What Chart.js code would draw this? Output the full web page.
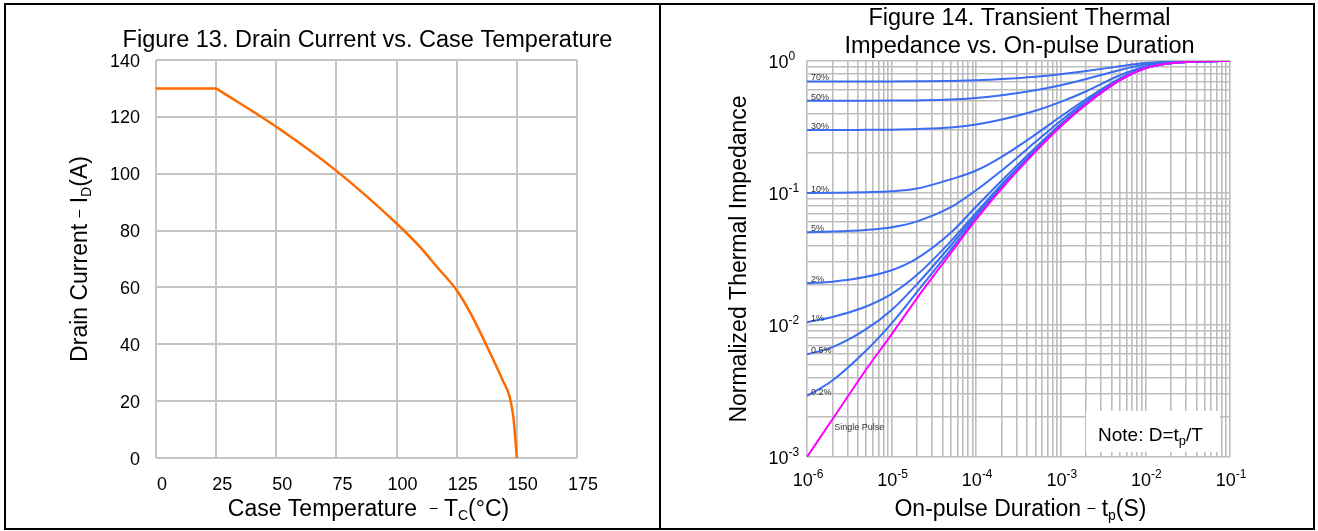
<!DOCTYPE html>
<html>
<head>
<meta charset="utf-8">
<title>Figure 13 / Figure 14</title>
<script src="https://cdn.jsdelivr.net/npm/chart.js@4.4.1/dist/chart.umd.min.js"></script>
<style>
  body { margin: 0; background: #fff; }
  #page { position: relative; width: 1318px; height: 531px; overflow: hidden; background: #fff; }
  canvas { position: absolute; top: 0; }
  #left-chart { left: 0; }
  #right-chart { left: 660px; }
  .frame { position: absolute; left: 4px; top: 3px; width: 1307px; height: 523px; border: 2px solid #000; pointer-events: none; }
  .divider { position: absolute; left: 659px; top: 3px; width: 2px; height: 527px; background: #000; pointer-events: none; }
</style>
</head>
<body>
<div id="page">
  <canvas id="left-chart" width="660" height="531"></canvas>
  <canvas id="right-chart" width="658" height="531"></canvas>
  <div class="frame"></div>
  <div class="divider"></div>
</div>
<script>
// Figure 13: corriente de drenaje vs temperatura de carcasa
const flatTemps = [0, 25]
const flatCurrent = [130, 130]
const derateTemps = [25, 50, 75, 100, 110, 117, 125, 131, 138, 144, 147, 148.6, 150]
const derateCurrent = [130, 116.5, 101, 82.5, 74, 67, 59, 50.5, 38.5, 27.5, 21.5, 14, 0]
const tempTicks = [0, 25, 50, 75, 100, 125, 150, 175]
const currentTicks = [0, 20, 40, 60, 80, 100, 120, 140]

// Figure 14: impedancia térmica transitoria
const pulseWidths = [1e-6, 2e-6, 5e-6, 1e-5, 2e-5, 5e-5, 1e-4, 2e-4, 5e-4, 1e-3, 2e-3, 5e-3, 1e-2, 2e-2, 5e-2, 1e-1]
const singlePulse = [0.001, 0.00193, 0.0046, 0.0085, 0.016, 0.035, 0.063, 0.108, 0.205, 0.32, 0.47, 0.715, 0.882, 0.963, 0.995, 1.0]
const duty02 = [0.0029, 0.0038, 0.0064, 0.0103, 0.0178, 0.037, 0.065, 0.11, 0.207, 0.322, 0.471, 0.716, 0.882, 0.963, 0.995, 1.0]
const duty05 = [0.006, 0.0068, 0.0093, 0.013, 0.0204, 0.04, 0.068, 0.112, 0.209, 0.323, 0.472, 0.716, 0.883, 0.963, 0.995, 1.0]
const duty1 = [0.0105, 0.0115, 0.0138, 0.0172, 0.024, 0.043, 0.071, 0.116, 0.212, 0.326, 0.475, 0.718, 0.883, 0.963, 0.995, 1.0]
const duty2 = [0.0207, 0.0213, 0.0232, 0.026, 0.032, 0.05, 0.079, 0.124, 0.22, 0.333, 0.48, 0.72, 0.884, 0.964, 0.995, 1.0]
const duty5 = [0.0505, 0.051, 0.0525, 0.055, 0.061, 0.078, 0.105, 0.148, 0.243, 0.353, 0.495, 0.728, 0.888, 0.965, 0.995, 1.0]
const duty10 = [0.1, 0.1005, 0.1015, 0.103, 0.108, 0.127, 0.148, 0.188, 0.277, 0.38, 0.515, 0.738, 0.892, 0.966, 0.995, 1.0]
const duty30 = [0.3, 0.3, 0.301, 0.302, 0.305, 0.313, 0.33, 0.36, 0.42, 0.49, 0.59, 0.78, 0.91, 0.972, 0.996, 1.0]
const duty50 = [0.5, 0.5, 0.5, 0.501, 0.503, 0.51, 0.525, 0.55, 0.6, 0.655, 0.73, 0.855, 0.94, 0.98, 0.997, 1.0]
const duty70 = [0.7, 0.7, 0.7, 0.7, 0.702, 0.706, 0.715, 0.73, 0.76, 0.795, 0.84, 0.912, 0.964, 0.99, 0.998, 1.0]
const dutySeries = [duty70, duty50, duty30, duty10, duty5, duty2, duty1, duty05, duty02]
const dutyLabels = ["70%", "50%", "30%", "10%", "5%", "2%", "1%", "0.5%", "0.2%"]
const xExponents = [-6, -5, -4, -3, -2, -1]
const yExponents = [-3, -2, -1, 0]

const FONT = '"Liberation Sans", Arial, sans-serif'
const GRID = "#c4c4c4"

// Texto con subíndices / superíndices: partes [texto, tamaño, desplazamiento vertical]
function richWidth(ctx, parts) {
  let w = 0
  parts.forEach(([t, size]) => {
    ctx.font = size + "px " + FONT
    w += ctx.measureText(t).width
  })
  return w
}

function drawRich(ctx, parts, x, y, align) {
  const w = richWidth(ctx, parts)
  let cx = align === "center" ? x - w / 2 : align === "right" ? x - w : x
  ctx.textAlign = "left"
  ctx.textBaseline = "alphabetic"
  ctx.fillStyle = "#000"
  parts.forEach(([t, size, dy]) => {
    ctx.font = size + "px " + FONT
    ctx.fillText(t, cx, y + (dy || 0))
    cx += ctx.measureText(t).width
  })
}

function drawRotated(ctx, parts, x, y) {
  ctx.save()
  ctx.translate(x, y)
  ctx.rotate(-Math.PI / 2)
  drawRich(ctx, parts, 0, 0, "center")
  ctx.restore()
}

function logGridTicks(fromExp, toExp) {
  const ticks = []
  for (let e = fromExp; e < toExp; e++) {
    for (let k = 1; k <= 9; k++) ticks.push({ value: Number((k * Math.pow(10, e)).toPrecision(3)) })
  }
  ticks.push({ value: Math.pow(10, toExp) })
  return ticks
}

// Textos del gráfico de la izquierda
const leftTextPlugin = {
  id: "leftText",
  afterDraw(chart) {
    const { ctx, chartArea, scales } = chart
    const midX = (chartArea.left + chartArea.right) / 2
    const midY = (chartArea.top + chartArea.bottom) / 2

    drawRich(ctx, [["Figure 13. Drain Current vs. Case Temperature", 23.5]], midX + 1, 47, "center")

    tempTicks.forEach((v) => {
      drawRich(ctx, [[String(v), 18]], scales.x.getPixelForValue(v) + 6, 490, "center")
    })
    currentTicks.forEach((v) => {
      drawRich(ctx, [[String(v), 18]], chartArea.left - 16, scales.y.getPixelForValue(v) + 6.5, "right")
    })

    drawRich(ctx, [
      ["Case Temperature  ", 23],
      ["\u2013", 14, -4.5],
      [" T", 23],
      ["C", 14, 4],
      ["(\u00b0C)", 23],
    ], midX + 2, 516, "center")

    drawRotated(ctx, [
      ["Drain Current ", 23],
      ["\u2013", 14, -4.5],
      [" I", 23],
      ["D", 14, 4],
      ["(A)", 23],
    ], 87, midY)
  },
}

// Textos, etiquetas de curvas y nota del gráfico de la derecha
const rightTextPlugin = {
  id: "rightText",
  beforeDatasetsDraw(chart) {
    const { ctx, chartArea } = chart
    const bx = chartArea.right - 144
    const by = chartArea.bottom - 46
    ctx.save()
    ctx.fillStyle = "#fff"
    ctx.fillRect(bx, by, 134, 41)
    ctx.restore()
    drawRich(ctx, [
      ["Note: D=t", 19],
      ["p", 13, 4],
      ["/T", 19],
    ], bx + 12, chartArea.bottom - 16, "left")
  },
  afterDatasetsDraw(chart) {
    const { ctx, chartArea, scales } = chart
    ctx.save()
    ctx.font = "9px " + FONT
    ctx.fillStyle = "#333"
    ctx.textAlign = "left"
    ctx.textBaseline = "alphabetic"
    dutySeries.forEach((series, i) => {
      ctx.fillText(dutyLabels[i], chartArea.left + 4, scales.y.getPixelForValue(series[0]) - 1)
    })
    ctx.fillText("Single Pulse", scales.x.getPixelForValue(2.1e-6), scales.y.getPixelForValue(0.0016))
    ctx.restore()
  },
  afterDraw(chart) {
    const { ctx, chartArea, scales } = chart
    const midX = (chartArea.left + chartArea.right) / 2
    const midY = (chartArea.top + chartArea.bottom) / 2

    drawRich(ctx, [["Figure 14. Transient Thermal", 23.5]], midX + 1, 25, "center")
    drawRich(ctx, [["Impedance vs. On-pulse Duration", 23.5]], midX + 1, 53, "center")

    xExponents.forEach((e) => {
      drawRich(ctx, [["10", 18], [String(e), 12, -8]], scales.x.getPixelForValue(Math.pow(10, e)) + 1, 486, "center")
    })
    yExponents.forEach((e) => {
      drawRich(ctx, [["10", 18], [String(e), 12, -8]], chartArea.left - 38.5, scales.y.getPixelForValue(Math.pow(10, e)) + 6.5, "left")
    })

    drawRich(ctx, [
      ["On-pulse Duration ", 23],
      ["\u2013", 14, -4.5],
      [" t", 23],
      ["p", 14, 4],
      ["(S)", 23],
    ], midX + 2, 516, "center")

    drawRotated(ctx, [["Normalized Thermal Impedance", 23]], 746 - 660, midY)
  },
}

function createCurrentChart() {
  const ctx = document.getElementById("left-chart").getContext("2d")
  const orange = { borderColor: "#ff6a00", borderWidth: 2.5, pointRadius: 0, fill: false }
  new Chart(ctx, {
    type: "line",
    data: {
      datasets: [
        {
          ...orange,
          label: "Drain Current (limit)",
          data: flatTemps.map((t, i) => ({ x: t, y: flatCurrent[i] })),
          tension: 0,
        },
        {
          ...orange,
          label: "Drain Current",
          data: derateTemps.map((t, i) => ({ x: t, y: derateCurrent[i] })),
          cubicInterpolationMode: "monotone",
        },
      ],
    },
    options: {
      responsive: false,
      animation: false,
      devicePixelRatio: 1,
      layout: { padding: { top: 60, right: 83, left: 0, bottom: 0 } },
      plugins: { legend: { display: false }, tooltip: { enabled: false } },
      scales: {
        x: {
          type: "linear",
          min: 0,
          max: 175,
          ticks: { stepSize: 25, display: false },
          grid: { color: GRID, lineWidth: 2, drawTicks: false },
          border: { display: false },
          afterFit: (s) => { s.height = 73 },
        },
        y: {
          min: 0,
          max: 140,
          ticks: { stepSize: 20, display: false },
          grid: { color: GRID, lineWidth: 2, drawTicks: false },
          border: { display: false },
          afterFit: (s) => { s.width = 156 },
        },
      },
    },
    plugins: [leftTextPlugin],
  })
}

function createThermalChart() {
  const ctx = document.getElementById("right-chart").getContext("2d")
  const toPoints = (series) => pulseWidths.map((t, i) => ({ x: t, y: series[i] }))
  const datasets = [
    {
      label: "Single Pulse",
      data: toPoints(singlePulse),
      borderColor: "#ff00ff",
      borderWidth: 2,
    },
  ].concat(
    dutySeries.map((series, i) => ({
      label: dutyLabels[i],
      data: toPoints(series),
      borderColor: "#3a6cf4",
      borderWidth: 2,
    })),
  )
  datasets.forEach((d) => {
    d.pointRadius = 0
    d.cubicInterpolationMode = "monotone"
    d.fill = false
  })

  new Chart(ctx, {
    type: "line",
    data: { datasets },
    options: {
      responsive: false,
      animation: false,
      devicePixelRatio: 1,
      layout: { padding: { top: 61, right: 88, left: 0, bottom: 0 } },
      plugins: { legend: { display: false }, tooltip: { enabled: false } },
      scales: {
        x: {
          type: "logarithmic",
          min: 1e-6,
          max: 1e-1,
          afterBuildTicks: (s) => { s.ticks = logGridTicks(-6, -1) },
          ticks: { display: false },
          grid: { color: "#bdbdbd", lineWidth: 1.6, drawTicks: false },
          border: { display: false },
          afterFit: (s) => { s.height = 74 },
        },
        y: {
          type: "logarithmic",
          min: 1e-3,
          max: 1,
          afterBuildTicks: (s) => { s.ticks = logGridTicks(-3, 0) },
          ticks: { display: false },
          grid: { color: "#bdbdbd", lineWidth: 1.6, drawTicks: false },
          border: { display: false },
          afterFit: (s) => { s.width = 147 },
        },
      },
    },
    plugins: [rightTextPlugin],
  })
}

document.addEventListener("DOMContentLoaded", () => {
  createCurrentChart()
  createThermalChart()
})
</script>
</body>
</html>
